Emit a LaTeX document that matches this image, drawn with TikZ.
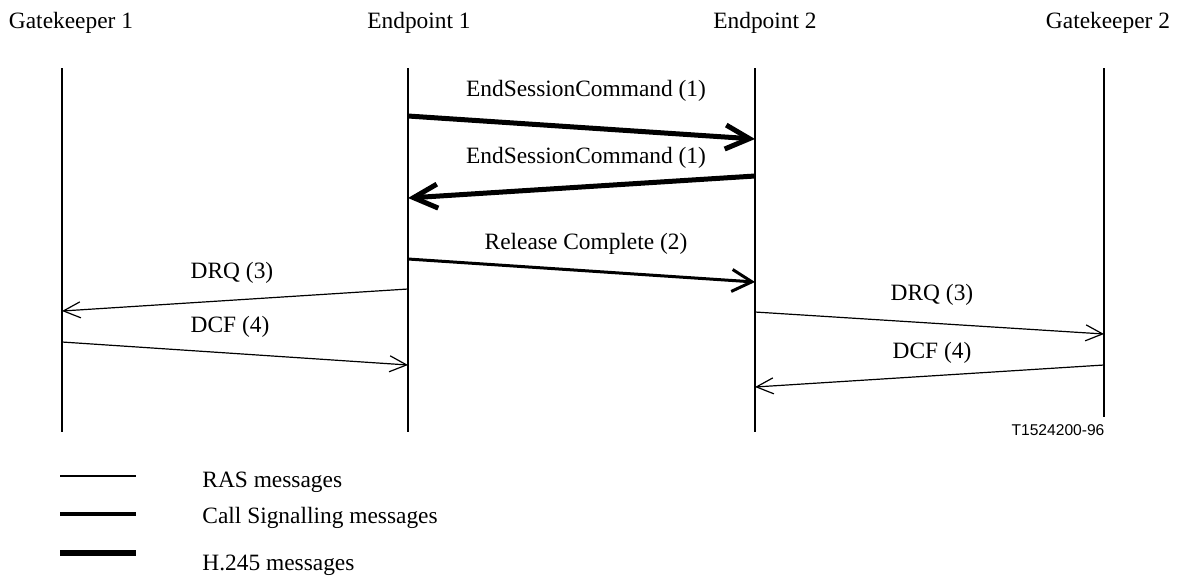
\documentclass[tikz,border=0pt]{standalone}
\usepackage{fontspec}
\setmainfont{Liberation Serif}
\newfontfamily\labelsans{Liberation Sans}
\usetikzlibrary{arrows.meta}
\begin{document}
\begin{tikzpicture}[x=0.5pt,y=-0.5pt,
  lifeline/.style={line width=1pt},
  ras/.style={line width=0.6pt,-{Straight Barb[length=8.5pt,width=8pt]}},
  callsig/.style={line width=1.5pt,-{Straight Barb[length=10pt,width=11pt]}},
  hmsg/.style={line width=2.5pt,-{Straight Barb[length=12pt,width=12pt]}},
  lbl/.style={font=\fontsize{11.7}{14}\selectfont, inner sep=0pt, anchor=base},
  legtxt/.style={font=\fontsize{11.7}{14}\selectfont, inner sep=0pt, anchor=base west},
  tag/.style={font=\labelsans\fontsize{7.8}{9}\selectfont, inner sep=0pt, anchor=base}]
\useasboundingbox (0,0) rectangle (1178,575);

% headers
\node[lbl] (hgk1) at (71,28) {Gatekeeper 1};
\node[lbl] (hep1) at (419,28) {Endpoint 1};
\node[lbl] (hep2) at (765,28) {Endpoint 2};
\node[lbl] (hgk2) at (1108,28) {Gatekeeper 2};

% lifelines
\coordinate (gk1t) at (62,68);  \coordinate (gk1b) at (62,432);
\coordinate (ep1t) at (408,68); \coordinate (ep1b) at (408,432);
\coordinate (ep2t) at (755,68); \coordinate (ep2b) at (755,432);
\coordinate (gk2t) at (1104,68); \coordinate (gk2b) at (1104,417);
\draw[lifeline] (gk1t) -- (gk1b);
\draw[lifeline] (ep1t) -- (ep1b);
\draw[lifeline] (ep2t) -- (ep2b);
\draw[lifeline] (gk2t) -- (gk2b);

% message end points
\coordinate (m1a) at (408,116); \coordinate (m1b) at (755,139);
\coordinate (m2a) at (755,176); \coordinate (m2b) at (408,198);
\coordinate (m3a) at (408,259); \coordinate (m3b) at (755,282);
\coordinate (m4a) at (408,289); \coordinate (m4b) at (62,311);
\coordinate (m5a) at (62,342);  \coordinate (m5b) at (408,365);
\coordinate (m6a) at (755,312); \coordinate (m6b) at (1104,334);
\coordinate (m7a) at (1104,365); \coordinate (m7b) at (755,387);

\draw[hmsg] (m1a) -- (m1b);
\draw[hmsg] (m2a) -- (m2b);
\draw[callsig] (m3a) -- (m3b);
\draw[ras] (m4a) -- (m4b);
\draw[ras] (m5a) -- (m5b);
\draw[ras] (m6a) -- (m6b);
\draw[ras] (m7a) -- (m7b);

% labels
\node[lbl] (l1) at (586,96) {EndSessionCommand (1)};
\node[lbl] (l2) at (586,163) {EndSessionCommand (1)};
\node[lbl] (l3) at (586,249) {Release Complete (2)};
\node[lbl] (l4) at (232,278) {DRQ (3)};
\node[lbl] (l5) at (230,332) {DCF (4)};
\node[lbl] (l6) at (932,300) {DRQ (3)};
\node[lbl] (l7) at (932,358) {DCF (4)};
\node[tag] (tg) at (1058,435) {T1524200-96};

% legend
\coordinate (r1a) at (60,476); \coordinate (r1b) at (136,476);
\coordinate (r2a) at (60,514); \coordinate (r2b) at (136,514);
\coordinate (r3a) at (60,553); \coordinate (r3b) at (136,553);
\draw[line width=0.8pt] (r1a) -- (r1b);
\draw[line width=1.6pt] (r2a) -- (r2b);
\draw[line width=2.8pt] (r3a) -- (r3b);
\node[legtxt] (t1) at (202,487) {RAS messages};
\node[legtxt] (t2) at (202,523) {Call Signalling messages};
\node[legtxt] (t3) at (202,570) {H.245 messages};
\end{tikzpicture}
\end{document}
